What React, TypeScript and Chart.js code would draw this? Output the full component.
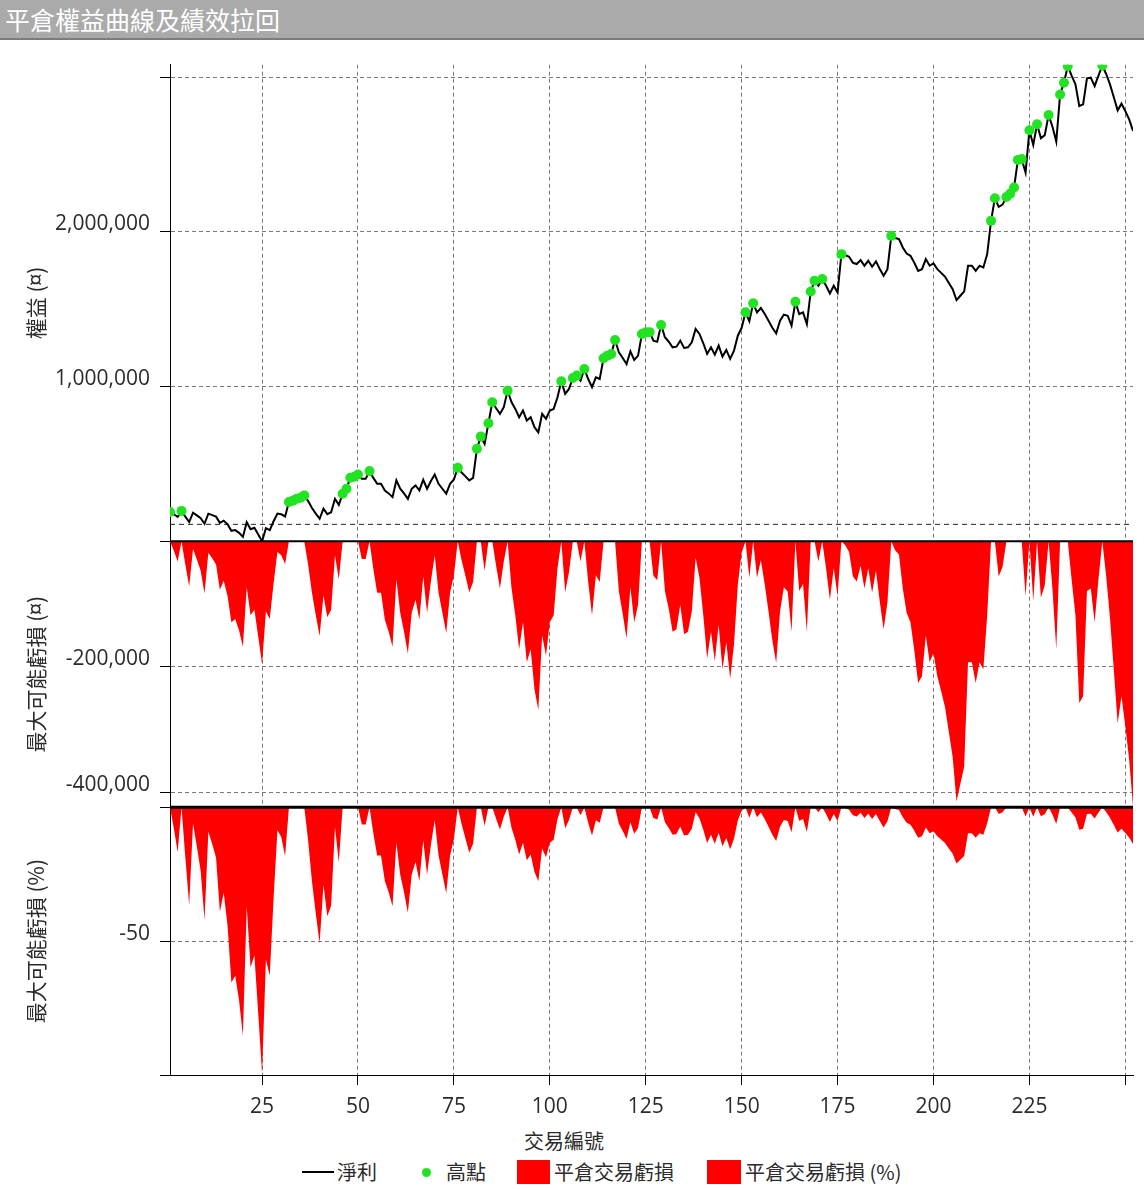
import React, { useEffect, useRef } from 'react';
import { Chart, registerables } from 'chart.js';

Chart.register(...registerables);

// Equity (net profit) per closed trade, trades 1..252
const equity: number[] = [
  190000, 175000, 158000, 197000, 160000, 125000, 185000, 168000, 150000, 114000,
  179000, 170000, 160000, 120000, 134000, 110000, 68000, 73000, 55000, 29000,
  124000, 79000, 88000, 45000, 1000, 85000, 73000, 130000, 180000, 175000,
  161000, 254000, 262000, 275000, 282000, 297000, 260000, 215000, 179000, 146000,
  211000, 176000, 188000, 275000, 236000, 308000, 340000, 411000, 418000, 432000,
  404000, 404000, 454000, 410000, 372000, 372000, 329000, 310000, 286000, 394000,
  340000, 310000, 275000, 340000, 361000, 329000, 398000, 340000, 390000, 432000,
  372000, 340000, 308000, 372000, 400000, 475000, 445000, 420000, 394000, 410000,
  598000, 677000, 630000, 763000, 899000, 860000, 824000, 867000, 974000, 900000,
  856000, 802000, 845000, 781000, 802000, 738000, 705000, 824000, 792000, 845000,
  856000, 931000, 1034000, 953000, 985000, 1056000, 1071000, 1039000, 1114000, 1049000,
  996000, 1060000, 1049000, 1183000, 1200000, 1211000, 1301000, 1221000, 1185000, 1146000,
  1228000, 1172000, 1200000, 1340000, 1351000, 1352000, 1297000, 1290000, 1398000, 1319000,
  1290000, 1254000, 1258000, 1297000, 1250000, 1254000, 1286000, 1372000, 1340000, 1280000,
  1211000, 1254000, 1207000, 1265000, 1194000, 1237000, 1179000, 1233000, 1329000, 1380000,
  1480000, 1422000, 1538000, 1480000, 1508000, 1470000, 1426000, 1380000, 1344000, 1426000,
  1465000, 1458000, 1394000, 1548000, 1469000, 1480000, 1404000, 1615000, 1684000, 1652000,
  1695000, 1652000, 1602000, 1652000, 1608000, 1856000, 1850000, 1839000, 1800000, 1792000,
  1817000, 1781000, 1813000, 1774000, 1809000, 1760000, 1716000, 1759000, 1974000, 1960000,
  1953000, 1899000, 1860000, 1845000, 1800000, 1748000, 1759000, 1824000, 1781000, 1796000,
  1759000, 1735000, 1710000, 1670000, 1630000, 1559000, 1587000, 1615000, 1781000, 1781000,
  1748000, 1781000, 1770000, 1856000, 2071000, 2217000, 2161000, 2176000, 2225000, 2247000,
  2286000, 2465000, 2470000, 2383000, 2656000, 2561000, 2695000, 2605000, 2625000, 2755000,
  2680000, 2583000, 2888000, 2963000, 3071000, 3010000, 2953000, 2813000, 2824000, 2992000,
  2996000, 2942000, 3010000, 3075000, 3020000, 2953000, 2870000, 2785000, 2828000, 2780000,
  2727000, 2652000,
];

// Trades that set a new equity high (green dots)
const highTrades: number[] = [
  1, 4, 32, 33, 34, 35, 36, 46, 47, 48, 49, 50, 53, 76, 81, 82, 84, 85, 89,
  103, 106, 107, 109, 114, 115, 116, 117, 124, 125, 126, 129, 151, 153, 164,
  168, 169, 171, 176, 189, 215, 216, 219, 220, 221, 222, 223, 225, 227, 230,
  233, 234, 235, 244,
];

const referenceLevel = 110000;

const xTickValues = [25, 50, 75, 100, 125, 150, 175, 200, 225, 250];
const xTickLabels = ['25', '50', '75', '100', '125', '150', '175', '200', '225', ''];
const equityTicks = [0, 1000000, 2000000, 3000000];
const equityTickLabels = ['', '1,000,000', '2,000,000', ''];
const ddTicks = [0, -200000, -400000];
const ddTickLabels = ['', '-200,000', '-400,000'];
const ddPctTicks = [0, -50, -100];
const ddPctTickLabels = ['', '-50', ''];

const FONT_NUM = '"Open Sans", "Noto Sans", "Noto Sans CJK TC", sans-serif';
const FONT_CJK = '"Noto Sans CJK TC", "Noto Sans", sans-serif';
const TEXT = '#2b2b2b';
const GRID = '#7a7a7a';

function labelFrom(values: number[], labels: string[], v: number, shift: boolean): string | string[] {
  const i = values.indexOf(v);
  const t = i >= 0 ? labels[i] : '';
  if (!t) return '';
  return shift ? [t, ''] : t;
}

const zeroLines = {
  id: 'zeroLines',
  afterDatasetsDraw(chart: any) {
    const { ctx, chartArea } = chart;
    const items: [string, number][] = [['y2', 2], ['y3', 3]];
    items.forEach(([id, w]) => {
      const y = chart.scales[id].getPixelForValue(0);
      ctx.save();
      ctx.strokeStyle = '#000';
      ctx.lineWidth = w;
      ctx.beginPath();
      ctx.moveTo(chartArea.left, y);
      ctx.lineTo(chartArea.right, y);
      ctx.stroke();
      ctx.restore();
    });
  },
};

function yAxis(stackWeight: number, weight: number, min: number, max: number, ticks: number[], labels: string[], title: string) {
  return {
    type: 'linear' as const,
    position: 'left' as const,
    stack: 'panels',
    stackWeight,
    weight,
    min,
    max,
    afterBuildTicks: (axis: any) => {
      axis.ticks = ticks.map((v) => ({ value: v }));
    },
    afterFit: (axis: any) => {
      axis.width = 170;
    },
    ticks: {
      autoSkip: false,
      padding: 10,
      color: TEXT,
      font: { family: FONT_NUM, size: 21, lineHeight: 0.7 },
      callback: (v: any) => labelFrom(ticks, labels, Number(v), true),
    },
    grid: { color: GRID, lineWidth: 1, tickColor: '#000', tickLength: 10 },
    border: { display: true, color: '#000', width: 1, dash: [4, 3] },
    title: {
      display: true,
      text: title,
      color: TEXT,
      font: { family: FONT_CJK, size: 21 },
      padding: { top: 23, bottom: 0 },
    },
  };
}

export default function App() {
  const canvasRef = useRef<HTMLCanvasElement | null>(null);

  useEffect(() => {
    document.body.style.margin = '0';
    const canvas = canvasRef.current;
    if (!canvas) return;

    const trades = equity.map((_, i) => i + 1);
    const drawdown: number[] = [];
    const drawdownPct: number[] = [];
    let peak = -Infinity;
    equity.forEach((v) => {
      peak = Math.max(peak, v);
      drawdown.push(v - peak);
      drawdownPct.push(peak > 0 ? ((v - peak) / peak) * 100 : 0);
    });

    const chart = new Chart(canvas, {
      type: 'line',
      data: {
        datasets: [
          {
            label: '高點',
            data: highTrades.map((t) => ({ x: t, y: equity[t - 1] })),
            yAxisID: 'y',
            showLine: false,
            pointRadius: 5,
            pointBackgroundColor: '#22e322',
            pointBorderWidth: 0,
            order: 0,
          },
          {
            label: '淨利',
            data: trades.map((t, i) => ({ x: t, y: equity[i] })),
            yAxisID: 'y',
            borderColor: '#000',
            borderWidth: 2,
            pointRadius: 0,
            tension: 0,
            order: 1,
          },
          {
            label: 'ref',
            data: [
              { x: trades[0], y: referenceLevel },
              { x: trades[trades.length - 1], y: referenceLevel },
            ],
            yAxisID: 'y',
            borderColor: '#222',
            borderWidth: 1,
            borderDash: [5, 4],
            pointRadius: 0,
            order: 2,
          },
          {
            label: '平倉交易虧損',
            data: trades.map((t, i) => ({ x: t, y: drawdown[i] })),
            yAxisID: 'y2',
            fill: 'origin',
            backgroundColor: '#ff0000',
            borderColor: 'rgba(0,0,0,0)',
            borderWidth: 0,
            pointRadius: 0,
            order: 3,
          },
          {
            label: '平倉交易虧損 (%)',
            data: trades.map((t, i) => ({ x: t, y: drawdownPct[i] })),
            yAxisID: 'y3',
            fill: 'origin',
            backgroundColor: '#ff0000',
            borderColor: 'rgba(0,0,0,0)',
            borderWidth: 0,
            pointRadius: 0,
            order: 4,
          },
        ],
      },
      options: {
        responsive: false,
        animation: false,
        layout: { padding: { top: 24, right: 11, bottom: 0, left: 0 } },
        plugins: { legend: { display: false }, tooltip: { enabled: false } },
        scales: {
          x: {
            type: 'linear',
            position: 'bottom',
            min: 1,
            max: 252,
            afterBuildTicks: (axis: any) => {
              axis.ticks = xTickValues.map((v) => ({ value: v }));
            },
            afterFit: (axis: any) => {
              axis.height = 50;
            },
            ticks: {
              autoSkip: false,
              maxRotation: 0,
              padding: 9,
              color: TEXT,
              font: { family: FONT_NUM, size: 21 },
              callback: (v: any) => labelFrom(xTickValues, xTickLabels, Number(v), false),
            },
            grid: { color: GRID, lineWidth: 1, tickColor: '#000', tickLength: 10 },
            border: { display: true, color: '#000', width: 1, dash: [4, 3] },
          },
          y: yAxis(477, 3, 0, 3080000, equityTicks, equityTickLabels, '權益 (¤)'),
          y2: yAxis(266, 2, -424000, 0, ddTicks, ddTickLabels, '最大可能虧損 (¤)'),
          y3: yAxis(268, 1, -100, 0, ddPctTicks, ddPctTickLabels, '最大可能虧損 (%)'),
        } as any,
      },
      plugins: [zeroLines],
    });

    return () => chart.destroy();
  }, []);

  const legendText: React.CSSProperties = {
    position: 'absolute',
    top: 1159,
    fontFamily: FONT_CJK,
    fontSize: 20,
    lineHeight: '26px',
    color: TEXT,
    whiteSpace: 'nowrap',
  };

  return (
    <div style={{ position: 'relative', width: 1144, height: 1190, background: '#fff', overflow: 'hidden' }}>
      <div
        style={{
          position: 'absolute',
          left: 0,
          top: 0,
          width: 1144,
          height: 38,
          background: '#aaaaaa',
          borderBottom: '2px solid #7c7c7c',
          color: '#fff',
          fontFamily: FONT_CJK,
          fontSize: 25,
          lineHeight: '38px',
          paddingLeft: 5,
          boxSizing: 'content-box',
        }}
      >
        平倉權益曲線及績效拉回
      </div>
      <canvas
        ref={canvasRef}
        width={1144}
        height={1085}
        style={{ position: 'absolute', left: 0, top: 40, width: 1144, height: 1085, display: 'block' }}
      />
      <div
        style={{
          position: 'absolute',
          left: 464,
          top: 1128,
          width: 200,
          textAlign: 'center',
          fontFamily: FONT_CJK,
          fontSize: 20,
          lineHeight: '26px',
          color: TEXT,
        }}
      >
        交易編號
      </div>
      <div style={{ position: 'absolute', left: 302, top: 1171, width: 32, height: 2, background: '#000' }} />
      <div style={{ ...legendText, left: 337 }}>淨利</div>
      <div style={{ position: 'absolute', left: 422, top: 1168, width: 9, height: 9, borderRadius: '50%', background: '#22e322' }} />
      <div style={{ ...legendText, left: 446 }}>高點</div>
      <div style={{ position: 'absolute', left: 517, top: 1160, width: 33, height: 24, background: '#ff0000' }} />
      <div style={{ ...legendText, left: 554 }}>平倉交易虧損</div>
      <div style={{ position: 'absolute', left: 707, top: 1160, width: 34, height: 24, background: '#ff0000' }} />
      <div style={{ ...legendText, left: 745 }}>平倉交易虧損 (%)</div>
    </div>
  );
}
